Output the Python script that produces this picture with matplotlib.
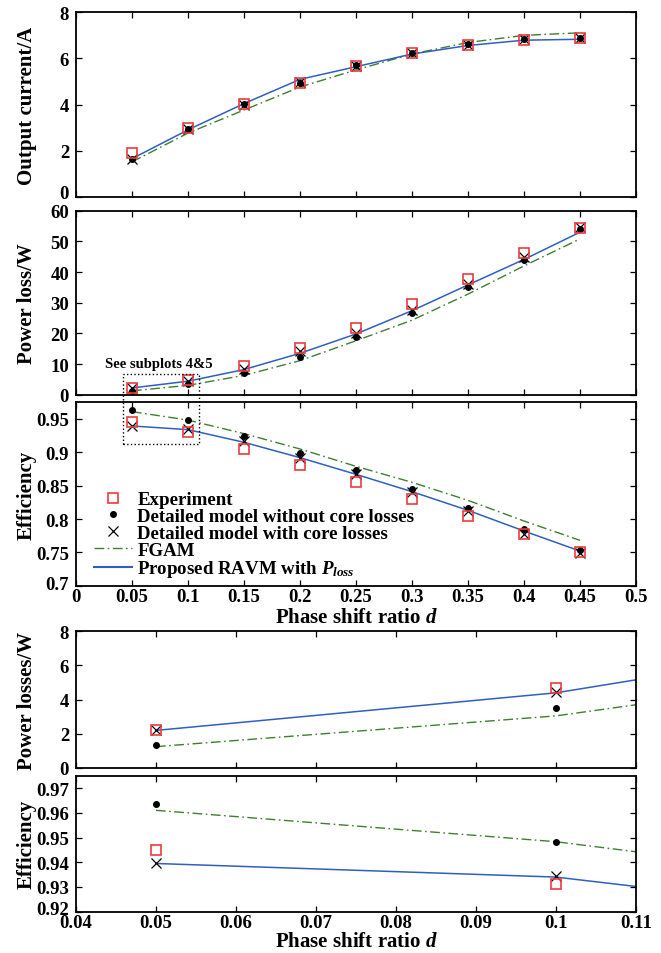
import matplotlib
matplotlib.use("Agg")
import matplotlib.pyplot as plt
from matplotlib.lines import Line2D
from matplotlib.patches import Rectangle
from matplotlib.transforms import ScaledTranslation

plt.rcParams['font.family'] = ['Liberation Serif', 'DejaVu Serif']
plt.rcParams['font.weight'] = 'bold'
plt.rcParams['mathtext.fontset'] = 'custom'
plt.rcParams['mathtext.it'] = 'Liberation Serif:italic:bold'
plt.rcParams['mathtext.rm'] = 'Liberation Serif:bold'
plt.rcParams['axes.linewidth'] = 1.3

# ---------------- data ----------------
d = [0.05, 0.10, 0.15, 0.20, 0.25, 0.30, 0.35, 0.40, 0.45]

cur_exp   = [1.88, 2.97, 4.01, 4.94, 5.69, 6.23, 6.60, 6.80, 6.89]
cur_nocore = [1.62, 2.95, 4.02, 4.95, 5.70, 6.25, 6.63, 6.85, 6.90]
cur_core  = [1.62, 2.92, 4.00, 4.98, 5.68, 6.22, 6.60, 6.82, 6.88]
cur_fgam  = [1.51, 2.76, 3.76, 4.76, 5.50, 6.19, 6.69, 7.00, 7.11]
cur_ravm  = [1.65, 2.90, 4.04, 5.09, 5.64, 6.19, 6.56, 6.79, 6.83]

pl_exp    = [2.25, 4.70, 9.3, 15.2, 21.9, 29.7, 37.8, 46.2, 54.3]
pl_nocore = [1.35, 3.50, 7.1, 12.4, 18.9, 26.6, 35.0, 44.0, 54.1]
pl_core   = [2.20, 4.45, 8.4, 14.2, 20.0, 27.7, 36.0, 45.0, 54.6]
pl_fgam   = [1.25, 3.05, 6.3, 11.1, 17.6, 24.3, 32.8, 42.0, 50.8]
pl_ravm   = [2.20, 4.40, 8.2, 13.5, 19.8, 27.4, 35.8, 44.1, 53.0]

ef_exp    = [0.945, 0.931, 0.905, 0.881, 0.856, 0.830, 0.804, 0.778, 0.750]
ef_nocore = [0.9635, 0.948, 0.925, 0.899, 0.873, 0.845, 0.816, 0.785, 0.753]
ef_core   = [0.9395, 0.9343, 0.917, 0.892, 0.867, 0.840, 0.812, 0.778, 0.749]
ef_fgam   = [0.961, 0.9483, 0.928, 0.905, 0.879, 0.855, 0.828, 0.797, 0.768]
ef_ravm   = [0.9395, 0.934, 0.915, 0.892, 0.867, 0.841, 0.813, 0.782, 0.752]

xt_main = [0, 0.05, 0.1, 0.15, 0.2, 0.25, 0.3, 0.35, 0.4, 0.45, 0.5]
xt_main_lbl = ['0', '0.05', '0.1', '0.15', '0.2', '0.25', '0.3', '0.35', '0.4', '0.45', '0.5']
xt_zoom = [0.04, 0.05, 0.06, 0.07, 0.08, 0.09, 0.1, 0.11]
xt_zoom_lbl = ['0.04', '0.05', '0.06', '0.07', '0.08', '0.09', '0.1', '0.11']
yt_cur = [0, 2, 4, 6, 8]
yt_pl = [0, 10, 20, 30, 40, 50, 60]
yt_ef = [0.7, 0.75, 0.8, 0.85, 0.9, 0.95]
yt_ef_lbl = ['0.7', '0.75', '0.8', '0.85', '0.9', '0.95']
yt_pl_zoom = [0, 2, 4, 6, 8]
yt_ef_zoom = [0.92, 0.93, 0.94, 0.95, 0.96, 0.97]
yt_ef_zoom_lbl = ['0.92', '0.93', '0.94', '0.95', '0.96', '0.97']

labels = ['Experiment', 'Detailed model without core losses',
          'Detailed model with core losses', 'FGAM',
          'Proposed RAVM with $P_{loss}$']

# ---------------- style ----------------
RED = '#ee3b3b'
BLUE = '#2f5fc0'
GREEN = '#3f7f30'
DASHDOT = (0, (7, 2.5, 1.2, 2.5))

W, H = 661, 954
fig = plt.figure(figsize=(W / 100, H / 100), dpi=100)


def pos(top, bottom, left=76, right=636):
    return [left / W, 1 - bottom / H, (right - left) / W, (bottom - top) / H]


ax1 = fig.add_axes(pos(13.3, 197.7))
ax2 = fig.add_axes(pos(211.7, 395.7))
ax3 = fig.add_axes(pos(403.3, 586.7))
ax4 = fig.add_axes(pos(632.3, 769.0))
ax5 = fig.add_axes(pos(776.7, 912.7))

TICKFS = 13.5
LABFS = 15


def draw(ax, exp, nocore, core, fgam, ravm):
    ax.plot(d, fgam, color=GREEN, lw=1.0, ls=DASHDOT, zorder=2)
    ax.plot(d, ravm, color=BLUE, lw=1.1, zorder=2)
    ax.plot(d, nocore, ls='none', marker='o', ms=4, color='black', zorder=3)
    ax.plot(d, core, ls='none', marker='x', ms=6.5, mew=0.9, color='black', zorder=4)
    ax.plot(d, exp, ls='none', marker='s', ms=7.5, mfc='none', mec=RED, mew=1.2, zorder=5)


def style(ax):
    ax.tick_params(direction='in', top=True, right=True, length=4.5, width=0.9,
                   labelsize=TICKFS)
    ax.tick_params(axis='y', pad=5)
    ax.tick_params(axis='x', pad=2)
    for lbl in ax.get_xticklabels() + ax.get_yticklabels():
        lbl.set_fontweight('bold')


draw(ax1, cur_exp, cur_nocore, cur_core, cur_fgam, cur_ravm)
draw(ax2, pl_exp, pl_nocore, pl_core, pl_fgam, pl_ravm)
draw(ax3, ef_exp, ef_nocore, ef_core, ef_fgam, ef_ravm)
draw(ax4, pl_exp, pl_nocore, pl_core, pl_fgam, pl_ravm)
draw(ax5, ef_exp, ef_nocore, ef_core, ef_fgam, ef_ravm)

for ax in (ax1, ax2, ax3):
    ax.set_xlim(0, 0.5)
    ax.set_xticks(xt_main)
for ax in (ax1, ax2):
    ax.set_xticklabels([])
ax3.set_xticklabels(xt_main_lbl)

ax1.set_ylim(0, 8)
ax1.set_yticks(yt_cur)
ax2.set_ylim(0, 60)
ax2.set_yticks(yt_pl)
ax3.set_ylim(0.7, 0.975)
ax3.set_yticks(yt_ef)
ax3.set_yticklabels(yt_ef_lbl)

for ax in (ax4, ax5):
    ax.set_xlim(0.04, 0.11)
    ax.set_xticks(xt_zoom)
ax4.set_xticklabels([])
ax5.set_xticklabels(xt_zoom_lbl)
ax4.set_ylim(0, 8)
ax4.set_yticks(yt_pl_zoom)
ax5.set_ylim(0.92, 0.975)
ax5.set_yticks(yt_ef_zoom)
ax5.set_yticklabels(yt_ef_zoom_lbl)

for ax in (ax1, ax2, ax3, ax4, ax5):
    style(ax)

# lowest y-tick labels sit slightly above their tick (as in the reference)
for ax, dy in ((ax1, 4), (ax5, 3), (ax3, 2)):
    t = ax.yaxis.get_major_ticks()[0].label1
    t.set_transform(t.get_transform() + ScaledTranslation(0, dy / 72, fig.dpi_scale_trans))

ylabs = ['Output current/A', 'Power loss/W', 'Efficiency', 'Power losses/W', 'Efficiency']
for ax, t in zip((ax1, ax2, ax3, ax4, ax5), ylabs):
    ax.set_ylabel(t, fontsize=LABFS, fontweight='bold', va='center')
    ax.yaxis.set_label_coords(-0.088, 0.5)

ax3.set_xlabel('Phase shift ratio $d$', fontsize=LABFS, fontweight='bold', labelpad=1)
ax5.set_xlabel('Phase shift ratio $d$', fontsize=LABFS, fontweight='bold', labelpad=0)

# legend
handles = [
    Line2D([], [], ls='none', marker='s', ms=7.5, mfc='none', mec=RED, mew=1.2),
    Line2D([], [], ls='none', marker='o', ms=4, color='black'),
    Line2D([], [], ls='none', marker='x', ms=6.5, mew=0.9, color='black'),
    Line2D([], [], color=GREEN, lw=1.0, ls=DASHDOT),
    Line2D([], [], color=BLUE, lw=1.5),
]
leg = ax3.legend(handles, labels, loc='lower left', bbox_to_anchor=(0.032, 0.035),
                 frameon=False, fontsize=13.6, handlelength=2.0, handletextpad=0.3,
                 labelspacing=-0.02, borderpad=0, borderaxespad=0)
for t in leg.get_texts():
    t.set_fontweight('bold')

# annotation box
ax2.text(0.0256, 9.0, 'See subplots 4&5', fontsize=10.5, fontweight='bold',
         ha='left', va='baseline')
inv = fig.transFigure.inverted()
x0, y0 = inv.transform(ax3.transData.transform((0.042, 0.913)))
x1, y1 = inv.transform(ax2.transData.transform((0.110, 6.8)))
fig.add_artist(Rectangle((x0, y0), x1 - x0, y1 - y0, transform=fig.transFigure,
                         fill=False, ls=':', lw=1.0, ec='black', zorder=10))

fig.savefig('out.png', dpi=100)
